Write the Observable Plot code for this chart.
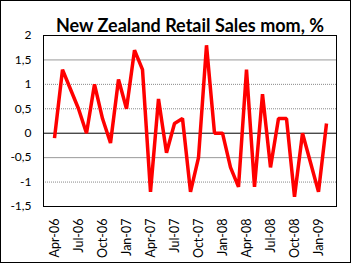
<!DOCTYPE html>
<html>
<head>
<meta charset="utf-8">
<script src="https://cdn.jsdelivr.net/npm/d3@7"></script>
<script src="https://cdn.jsdelivr.net/npm/@observablehq/plot@0.6"></script>
<style>
  html, body { margin: 0; padding: 0; background: #fff; }
  #chart svg { display: block; }
</style>
</head>
<body>
<div id="chart"></div>
<script>
const title = "New Zealand Retail Sales mom, %";
const months = ["Apr-06","May-06","Jun-06","Jul-06","Aug-06","Sep-06","Oct-06","Nov-06","Dec-06",
  "Jan-07","Feb-07","Mar-07","Apr-07","May-07","Jun-07","Jul-07","Aug-07","Sep-07","Oct-07","Nov-07","Dec-07",
  "Jan-08","Feb-08","Mar-08","Apr-08","May-08","Jun-08","Jul-08","Aug-08","Sep-08","Oct-08","Nov-08","Dec-08",
  "Jan-09","Feb-09"];
const values = [-0.1, 1.3, 0.9, 0.5, 0.0, 1.0, 0.3, -0.2, 1.1,
  0.5, 1.7, 1.3, -1.2, 0.7, -0.4, 0.2, 0.3, -1.2, -0.5, 1.8, 0.0,
  0.0, -0.7, -1.1, 1.3, -1.1, 0.8, -0.7, 0.3, 0.3, -1.3, 0.0, -0.6,
  -1.2, 0.2];
const xTickLabels = ["Apr-06","Jul-06","Oct-06","Jan-07","Apr-07","Jul-07","Oct-07","Jan-08","Apr-08","Jul-08","Oct-08","Jan-09"];
const yTicks = [-1.5, -1, -0.5, 0, 0.5, 1, 1.5, 2];
const solidGrid = [1.5, -0.5];
const dottedGrid = [1, 0.5, -1];

const data = months.map((m, i) => ({month: m, value: values[i]}));
const fmt = d => String(d).replace(".", ",");

const chart = Plot.plot({
  width: 353,
  height: 267,
  marginLeft: 43,
  marginRight: 17,
  marginTop: 35,
  marginBottom: 61,
  style: {fontFamily: "Lato, 'Open Sans', sans-serif", fontSize: "12px", color: "#000", background: "#fff"},
  x: {type: "point", domain: months, padding: 0.5, label: null},
  y: {domain: [-1.5, 2], label: null},
  marks: [
    Plot.ruleY(solidGrid, {stroke: "#999", strokeWidth: 1}),
    Plot.ruleY(dottedGrid, {stroke: "#888", strokeWidth: 1, strokeDasharray: "1,1"}),
    Plot.ruleY([0], {stroke: "#000", strokeWidth: 1}),
    Plot.frame({stroke: "#000", strokeWidth: 1}),
    Plot.axisY({ticks: yTicks, tickFormat: fmt, tickSize: 0, tickPadding: 12, fontSize: 12}),
    Plot.axisX({ticks: xTickLabels, tickSize: 0, tickPadding: 12, tickRotate: -90, fontSize: 12.5}),
    Plot.line(data, {x: "month", y: "value", stroke: "#ff0000", strokeWidth: 3.5, strokeLinejoin: "miter", strokeLinecap: "butt"}),
    Plot.text([title], {frameAnchor: "top", dy: -16, fontSize: 18, fontWeight: "bold", fill: "#000"})
  ]
});

d3.select(chart).append("rect")
  .attr("x", 0.5).attr("y", 0.5).attr("width", 350).attr("height", 262)
  .attr("fill", "none").attr("stroke", "#000").attr("stroke-width", 1);

document.getElementById("chart").appendChild(chart);
</script>
</body>
</html>
